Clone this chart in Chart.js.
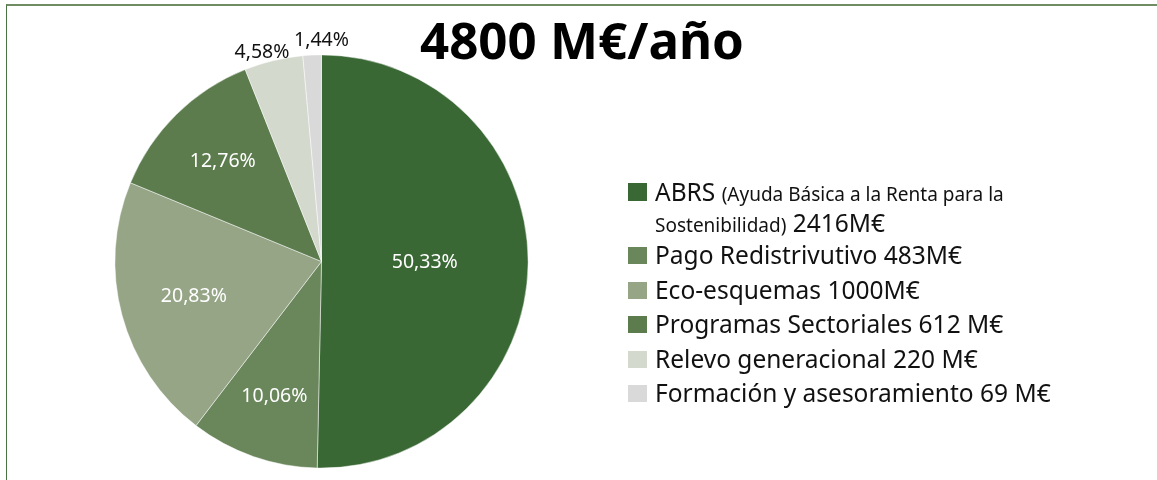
<!DOCTYPE html>
<html>
<head>
<meta charset="utf-8">
<script src="https://cdn.jsdelivr.net/npm/chart.js@4"></script>
<style>
  html, body { margin: 0; padding: 0; background: #fff; }
  body { width: 1157px; height: 480px; position: relative; overflow: hidden; font-family: "Noto Sans", sans-serif; }
  .frame { position: absolute; left: 6px; top: 4px; right: 0; bottom: 0; border-top: 2px solid #6f8c62; border-left: 1px solid #4b7243; }
  #chart-wrap { position: absolute; left: 0; top: 0; width: 1157px; height: 480px; }
  .title { position: absolute; left: 420px; top: 4px; font-size: 51px; font-weight: bold; color: #000; white-space: nowrap; }
  #legend { position: absolute; left: 628px; top: 176px; width: 480px; color: #111; font-size: 24.5px; }
  .item { position: relative; padding-left: 27px; line-height: 34.6px; white-space: nowrap; }
  .item.first { line-height: 31px; white-space: normal; width: 395px; }
  .item .box { position: absolute; left: 0; top: 9px; width: 19px; height: 17px; }
  .item.first .box { top: 7px; height: 18px; }
  .item .note { font-size: 19px; line-height: 1; }
</style>
</head>
<body>
<div class="frame"></div>
<div id="chart-wrap"><canvas id="pie-chart" width="1157" height="480"></canvas></div>
<div class="title">4800 M€/año</div>
<div id="legend"></div>

<script>
// Data
const names = ['ABRS', 'Pago Redistrivutivo', 'Eco-esquemas', 'Programas Sectoriales', 'Relevo generacional', 'Formación y asesoramiento'];
const notes = ['(Ayuda Básica a la Renta para la Sostenibilidad)', '', '', '', '', ''];
const amounts = ['2416M€', '483M€', '1000M€', '612 M€', '220 M€', '69 M€'];
const percents = [50.33, 10.06, 20.83, 12.76, 4.58, 1.44];
const colors = ['#3a6835', '#6a875c', '#95a586', '#5c7c4e', '#d3d9cd', '#d9d9d9'];

// where each percentage sits: part of the radius, and a small turn in degrees
const labelRadius = [0.5, 0.69, 0.64, 0.68, 1.05, 1.07];
const labelTurn = [0, 0, 0, 0, -2.5, 2.6];

// Build the legend by hand (mixed font sizes in the first entry)
const legendBuild = () => {
  const legend = document.getElementById('legend');
  names.forEach((name, i) => {
    const item = document.createElement('div');
    item.className = 'item' + (notes[i] ? ' first' : '');
    const box = document.createElement('span');
    box.className = 'box';
    box.style.background = colors[i];
    item.appendChild(box);
    item.appendChild(document.createTextNode(name + ' '));
    if (notes[i]) {
      const note = document.createElement('span');
      note.className = 'note';
      note.textContent = notes[i];
      item.appendChild(note);
      item.appendChild(document.createTextNode(' '));
    }
    item.appendChild(document.createTextNode(amounts[i]));
    legend.appendChild(item);
  });
};

// Percent labels on/near each slice
const sliceLabels = {
  id: 'sliceLabels',
  afterDatasetsDraw(chart) {
    const ctx = chart.ctx;
    const meta = chart.getDatasetMeta(0);
    ctx.save();
    ctx.font = '19.5px "Noto Sans"';
    ctx.textAlign = 'center';
    ctx.textBaseline = 'middle';
    meta.data.forEach((arc, i) => {
      const mid = (arc.startAngle + arc.endAngle) / 2 + labelTurn[i] * Math.PI / 180;
      const r = arc.outerRadius * labelRadius[i];
      const x = arc.x + Math.cos(mid) * r;
      const y = arc.y + Math.sin(mid) * r;
      ctx.fillStyle = labelRadius[i] > 1 ? '#111' : '#fff';
      ctx.fillText(percents[i].toFixed(2).replace('.', ',') + '%', x, y);
    });
    ctx.restore();
  }
};

legendBuild();

new Chart(document.getElementById('pie-chart'), {
  type: 'pie',
  data: {
    labels: names,
    datasets: [{
      data: percents,
      backgroundColor: colors,
      borderColor: 'rgba(255,255,255,0.6)',
      borderWidth: 0.8,
    }],
  },
  options: {
    responsive: false,
    animation: false,
    layout: { padding: { left: 114.5, right: 628.5, top: 54.5, bottom: 11.5 } },
    plugins: {
      legend: { display: false },
      tooltip: { enabled: false },
    },
  },
  plugins: [sliceLabels],
});
</script>
</body>
</html>
